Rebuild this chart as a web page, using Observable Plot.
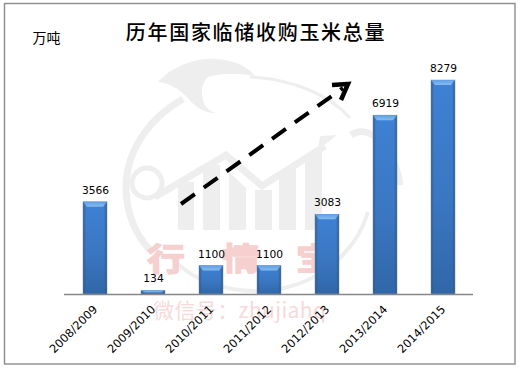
<!DOCTYPE html>
<html>
<head>
<meta charset="utf-8">
<style>html,body{margin:0;padding:0;background:#fff}svg{display:block}</style>
<script src="https://cdn.jsdelivr.net/npm/d3@7"></script>
<script src="https://cdn.jsdelivr.net/npm/@observablehq/plot@0.6"></script>
</head>
<body>
<div id="chart"></div>
<script>
const years = ["2008/2009","2009/2010","2010/2011","2011/2012","2012/2013","2013/2014","2014/2015"];
const values = [3566,134,1100,1100,3083,6919,8279];
const titleText = "历年国家临储收购玉米总量";
const unitText = "万吨";
const rows = years.map((year,i)=>({year,value:values[i]}));
const latin = "'DejaVu Sans',sans-serif";
const cjk = "'Noto Sans CJK SC','Noto Sans',sans-serif";

const raw = (html)=>()=>d3.create("svg:g").html(html).node();

const defs = raw(`<defs>
<linearGradient id="barBody" x1="0" y1="0" x2="0" y2="1">
<stop offset="0" stop-color="#3f82d6"/><stop offset="0.55" stop-color="#3b78c4"/><stop offset="1" stop-color="#3067a8"/></linearGradient>
<linearGradient id="barSides" x1="0" y1="0" x2="1" y2="0">
<stop offset="0" stop-color="#28517f" stop-opacity=".85"/><stop offset="0.13" stop-color="#2f609a" stop-opacity=".04"/>
<stop offset="0.87" stop-color="#2f609a" stop-opacity=".04"/><stop offset="1" stop-color="#28517f" stop-opacity=".85"/></linearGradient>
<linearGradient id="barTop" x1="0" y1="0" x2="0" y2="1">
<stop offset="0" stop-color="#5f9fe8"/><stop offset="1" stop-color="#86bbf0"/></linearGradient>
</defs>`);

const frame = raw(`<rect x="4.5" y="3.5" width="510.5" height="360.5" fill="#fff" stroke="#8c8c8c" stroke-width="1.4"/>`);

const watermark = raw(`<g fill="none" stroke="#eeeeee">
<path d="M183 99C146 120 125 155 126 190C127 215 136 235 150 250" stroke-width="7"/>
<path d="M170 256C190 280 225 292 262 291C315 288 355 255 368 212" stroke-width="4"/>
<path d="M250 77C290 78 330 95 350 118" stroke-width="3"/>
<circle cx="147" cy="183" r="15" stroke-width="5"/>
<path d="M155 197L226 155L262 186L325 146" stroke-width="7"/>
<path d="M351 135C370 122 395 150 400 185" stroke-width="7"/>
</g>
<g fill="#eeeeee">
<path d="M158 82C172 66 195 58 212 59C232 59 248 66 255 76C240 73 222 73 208 77C201 83 200 95 205 105C208 110 212 112 216 113C205 114 194 106 186 96C178 88 168 83 158 82Z"/>
<path d="M318 150L337 135L320 136Z"/>
<rect x="178" y="182" width="16" height="48"/>
<rect x="203" y="165" width="17" height="65"/>
<path d="M229 172L246 188V230H229Z"/>
<rect x="255" y="190" width="17" height="40"/>
<path d="M279 174L296 163V230H279Z"/>
<path d="M305 157L322 148V230H305Z"/>
</g>
<g fill="#f6cfcf" stroke="#f6cfcf" stroke-width="1.4" font-family="${cjk}" font-weight="700" font-size="31" text-anchor="start">
<text transform="translate(147 270) scale(1.22 1)">行</text><text transform="translate(222 270) scale(1.22 1)">情</text><text transform="translate(296 270) scale(1.22 1)">宝</text></g>
<text x="153" y="318" text-anchor="start" fill="#f8d9d9" font-family="${cjk}" font-size="21" letter-spacing="0.4">微信号：zhujiahq</text>`);

const arrow = raw(`<g fill="none" stroke="#000" stroke-width="4">
<path d="M181 204L343 88" stroke-dasharray="17 11"/>
<path d="M332 85L348 84L341 100" stroke-width="4.5"/></g>`);

function bevel(index, scales, vals, dims, ctx, next){
  const g = next(index, scales, vals, dims, ctx);
  d3.select(g).selectAll("rect").each(function(){
    const x=+this.getAttribute("x"), y=+this.getAttribute("y"), w=+this.getAttribute("width"), h=+this.getAttribute("height");
    const d=Math.min(5,h/2), s=Math.min(4,w/4);
    d3.select(g).append("polygon")
      .attr("points",[[x,y],[x+w,y],[x+w-s,y+d],[x+s,y+d]].join(" "))
      .attr("fill","url(#barTop)");
    this.remove();
  });
  return g;
}
function spaced(index, scales, vals, dims, ctx, next){
  const g = next(index, scales, vals, dims, ctx);
  d3.select(g).selectAll("text").attr("letter-spacing","1.7");
  return g;
}

const chart = Plot.plot({
  width:522, height:371,
  marginLeft:64, marginRight:49, marginTop:80, marginBottom:77,
  style:{background:"#fff",fontFamily:latin,fontSize:"11px",overflow:"visible"},
  x:{domain:years,paddingInner:0.59,paddingOuter:0.295,label:null},
  y:{domain:[0,8279],label:null,axis:null},
  marks:[
    defs, frame, watermark,
    Plot.barY(rows,{x:"year",y:"value",fill:"url(#barBody)"}),
    Plot.barY(rows,{x:"year",y:"value",fill:"url(#barSides)",stroke:"#7f8ea3",strokeWidth:0.5}),
    Plot.barY(rows,{x:"year",y:"value",fill:"#000",render:bevel}),
    Plot.ruleY([0],{stroke:"#868686",strokeWidth:1.4}),
    Plot.axisX({tickSize:0,tickPadding:13,tickRotate:-45,label:null,fill:"#000",fontSize:11.4,textAnchor:"end"}),
    Plot.text(rows,{x:"year",y:"value",text:d=>String(d.value),dy:-12,fill:"#000",fontSize:10.7}),
    Plot.text([titleText],{frameAnchor:"top",dx:-13,dy:-55,fontSize:20,fontWeight:500,fontFamily:cjk,fill:"#000",render:spaced}),
    Plot.text([unitText],{frameAnchor:"top-left",dx:-18,dy:-47,fontSize:14,fontFamily:cjk,fill:"#000",textAnchor:"middle"}),
    arrow
  ]
});
document.getElementById("chart").appendChild(chart);
</script>
</body>
</html>
